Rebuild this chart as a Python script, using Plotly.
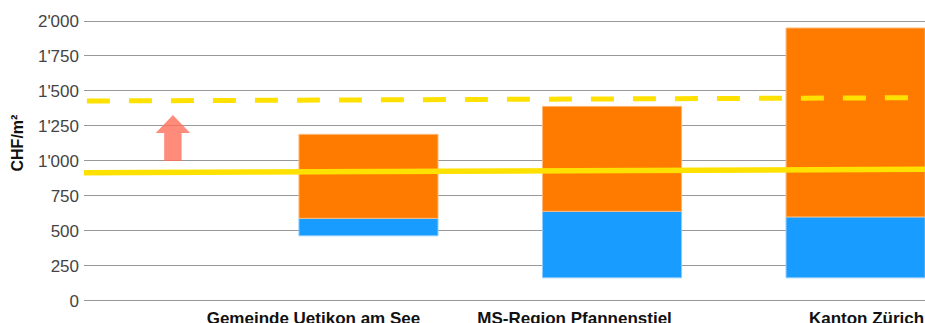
import plotly.graph_objects as go

# ---- data ----
categories = ["Gemeinde Uetikon am See", "MS-Region Pfannenstiel", "Kanton Zürich"]
bar_pos = [1, 2, 3]
label_pos = [0.774, 1.846, 3.045]
blue_low = [465, 165, 165]
blue_high = [590, 640, 600]
orange_high = [1190, 1390, 1950]

solid_x = [-0.168, 3.285]
solid_y = [916, 940]
dash_x = [-0.156, 3.285]
dash_y = [1428, 1452]

arrow_x = 0.197
arrow_base = 1000
arrow_head_base = 1200
arrow_tip = 1329

y_ticks = [0, 250, 500, 750, 1000, 1250, 1500, 1750, 2000]
y_tick_labels = ["0", "250", "500", "750", "1'000", "1'250", "1'500", "1'750", "2'000"]

# ---- figure ----
FONT = "Liberation Sans, Arial, sans-serif"
BLUE = "#199CFF"
ORANGE = "#FF7B00"
YELLOW = "#FFE100"

fig = go.Figure()

fig.add_trace(go.Bar(
    x=bar_pos, base=blue_low,
    y=[h - l for h, l in zip(blue_high, blue_low)],
    width=0.571, marker=dict(color=BLUE, line=dict(color="#8CCBFF", width=1)),
    hoverinfo="skip", showlegend=False))
fig.add_trace(go.Bar(
    x=bar_pos, base=blue_high,
    y=[h - l for h, l in zip(orange_high, blue_high)],
    width=0.571, marker=dict(color=ORANGE, line=dict(color="#FFB978", width=1)),
    hoverinfo="skip", showlegend=False))

fig.add_trace(go.Scatter(x=solid_x, y=solid_y, mode="lines",
                         line=dict(color=YELLOW, width=5.5), showlegend=False, hoverinfo="skip"))
fig.add_trace(go.Scatter(x=dash_x, y=dash_y, mode="lines",
                         line=dict(color=YELLOW, width=5, dash="23px,19px"),
                         showlegend=False, hoverinfo="skip"))

sw = 0.0357
hw = 0.0706
ax = [arrow_x - sw, arrow_x + sw, arrow_x + sw, arrow_x + hw, arrow_x,
      arrow_x - hw, arrow_x - sw, arrow_x - sw]
ay = [arrow_base, arrow_base, arrow_head_base, arrow_head_base, arrow_tip,
      arrow_head_base, arrow_head_base, arrow_base]
fig.add_trace(go.Scatter(x=ax, y=ay, mode="lines", fill="toself",
                         fillcolor="rgba(255,110,90,0.8)", line=dict(width=0),
                         showlegend=False, hoverinfo="skip"))

fig.update_layout(
    template="none",
    width=925, height=323,
    margin=dict(l=84, r=0, t=14, b=21),
    paper_bgcolor="white", plot_bgcolor="white",
    barmode="overlay",
    font=dict(family=FONT),
    showlegend=False,
)
fig.update_xaxes(
    range=[-0.168, 3.285], showgrid=False, zeroline=False, showline=False,
    tickvals=label_pos, ticktext=[f"<b>{c}</b>" for c in categories],
    tickfont=dict(size=17, color="#111", family=FONT), ticks="",
    ticklabelstandoff=4, automargin=False)
fig.update_yaxes(
    range=[-8, 2050], showgrid=True, gridcolor="#999999", gridwidth=1.2,
    zeroline=False, showline=False,
    tickvals=y_ticks, ticktext=y_tick_labels, ticks="",
    tickfont=dict(size=17, color="#444", family=FONT),
    ticklabelstandoff=4, automargin=False)

fig.add_annotation(
    text="<b>CHF/m²</b>", xref="paper", yref="paper",
    x=-67.5 / 841, y=(302 - 143) / 288, xanchor="center", yanchor="middle",
    textangle=-90, showarrow=False, font=dict(size=16, color="#111", family=FONT))

fig.write_html("out.html")
